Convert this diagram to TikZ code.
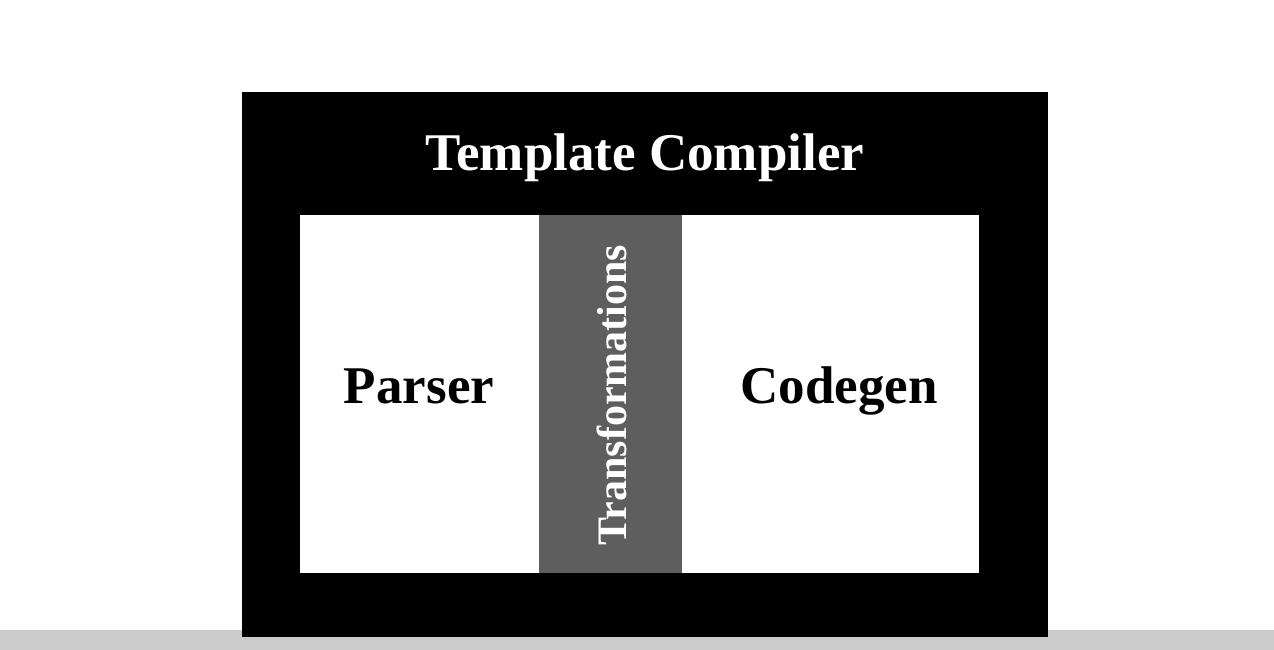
\documentclass[tikz,border=0pt]{standalone}
\usepackage{fontspec}
\setmainfont{Liberation Serif}
\definecolor{barg}{HTML}{CCCCCC}
\definecolor{midg}{HTML}{5E5E5E}
\begin{document}
\begin{tikzpicture}[x=1pt,y=-1pt,
  panel/.style={fill=white,draw=none},
  lbl/.style={font=\bfseries\fontsize{53}{60}\selectfont,inner sep=0pt}]
\useasboundingbox (0,0) rectangle (1274,650);
\fill[white] (0,0) rectangle (1274,650);
\fill[barg] (0,630) rectangle (1274,650);
\fill[black] (242,92) rectangle (1048,637);
\node[lbl,text=white,anchor=base] (title) at (645,171) {Template Compiler};
\fill[panel] (300,215) rectangle (539,573);
\fill[midg] (539,215) rectangle (682,573);
\fill[panel] (682,215) rectangle (979,573);
\node[lbl,anchor=base] (parser) at (419,403) {Parser};
\node[lbl,anchor=base] (codegen) at (839,403) {Codegen};
\node[font=\bfseries\fontsize{42}{48}\selectfont,text=white,rotate=90,anchor=base,inner sep=0pt] (trans) at (626,395) {Transformations};
\end{tikzpicture}
\end{document}
